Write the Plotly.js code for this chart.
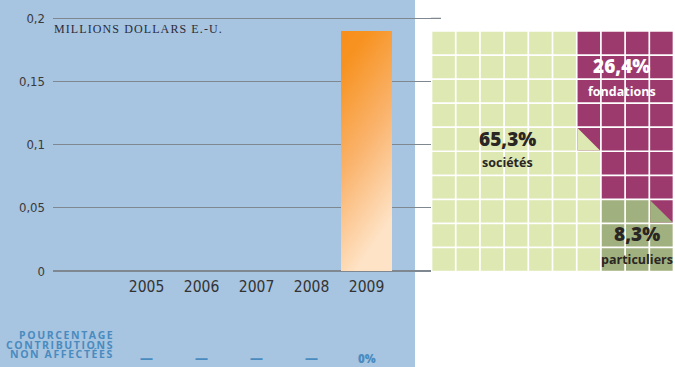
<!DOCTYPE html>
<html>
<head>
<meta charset="utf-8">
<script src="https://cdn.plot.ly/plotly-3.0.1.min.js"></script>
<style>
html,body{margin:0;padding:0;background:#fff;}
#chart{width:675px;height:367px;}
</style>
</head>
<body>
<div id="chart"></div>
<script>
// ---- data ----
const years = [2005, 2006, 2007, 2008, 2009];
const contributions = [0, 0, 0, 0, 0.19];          // millions US$
const unallocatedPct = [null, null, null, null, 0]; // % non affectées
const yTickVals = [0, 0.05, 0.1, 0.15, 0.2];
const yTickText = ['0', '0,05', '0,1', '0,15', '0,2'];
const unitLabel = 'MILLIONS DOLLARS E.-U.';
const pctLabelLines = ['POURCENTAGE', 'CONTRIBUTIONS', 'NON AFFECTÉES'];

const donorTypes = ['sociétés', 'fondations', 'particuliers'];
const donorShares = [65.3, 26.4, 8.3];
const donorColors = ['#dde8b2', '#9c3a6e', '#a1b07f'];
const donorTextColors = ['#2a2623', '#ffffff', '#2a2623'];

// ---- style constants ----
const W = 675, H = 367;
const px = v => v / W;
const py = v => (H - v) / H;
const narrow = '"Liberation Sans Narrow", "DejaVu Sans Condensed", "Arial Narrow", sans-serif';
const sans = '"Open Sans", "Noto Sans", sans-serif';
const blueText = '#4a8bbf';

// ---- waffle (10 x 10 cells, 1 cell = 1 %) ----
const N = 10;
const grid = [];
for (let r = 0; r < N; r++) { grid.push(new Array(N).fill(null)); }
const halfRound = v => Math.round(v * 2) / 2;
// category 0 fills columns left->right, each column bottom->up
const n0 = halfRound(donorShares[0]);
let k = 0, lastCol0 = 0;
const halves = [];
for (let c = 0; c < N && k < n0; c++) {
  for (let r = N - 1; r >= 0 && k < n0; r--) {
    if (n0 - k >= 1) { grid[r][c] = 0; k += 1; }
    else { halves.push({r, c, cat: 0}); k = n0; }
    lastCol0 = c;
  }
}
// category 2 fills the remaining columns bottom->up, left->right inside each row
const n2 = halfRound(donorShares[2]);
k = 0;
for (let r = N - 1; r >= 0 && k < n2; r--) {
  for (let c = lastCol0 + 1; c < N && k < n2; c++) {
    if (n2 - k >= 1) { grid[r][c] = 2; k += 1; }
    else { halves.push({r, c, cat: 2}); k = n2; }
  }
}
// category 1 takes the rest
for (let r = 0; r < N; r++) for (let c = 0; c < N; c++) if (grid[r][c] === null) grid[r][c] = 1;

const g = 0.035;
const polys = [[], [], []];
function addPoly(cat, pts) {
  pts.forEach(p => { polys[cat].push(p); });
  polys[cat].push(pts[0]);
  polys[cat].push([null, null]);
}
for (let r = 0; r < N; r++) for (let c = 0; c < N; c++) {
  addPoly(grid[r][c], [[c + g, r + g], [c + 1 - g, r + g], [c + 1 - g, r + 1 - g], [c + g, r + 1 - g]]);
}
halves.forEach(h => {
  const c = h.c, r = h.r;
  addPoly(h.cat, [[c + g, r + g], [c + g, r + 1 - g], [c + 1 - g, r + 1 - g]]);
});

const waffleTraces = [1, 0, 2].map(cat => ({
  type: 'scatter', mode: 'lines', xaxis: 'x2', yaxis: 'y2',
  x: polys[cat].map(p => p[0]), y: polys[cat].map(p => p[1]),
  fill: 'toself', fillcolor: donorColors[cat],
  line: {width: 0, color: donorColors[cat]},
  connectgaps: false, hoverinfo: 'skip', showlegend: false
}));

// ---- bar trace ----
const barTrace = {
  type: 'bar', x: years, y: contributions, width: 0.945,
  marker: {color: '#f9a552', line: {width: 0}},
  hoverinfo: 'skip', showlegend: false
};

// ---- annotations ----
const fmt = v => v.toFixed(1).replace('.', ',') + '%';
const labelPos = [
  {x: 3.15, y: 4.5, y2: 5.45},
  {x: 7.87, y: 1.45, y2: 2.5},
  {x: 8.49, y: 8.45, y2: 9.5}
];
const annotations = [];
annotations.push({
  xref: 'paper', yref: 'paper', x: px(52), y: py(29), xanchor: 'left', yanchor: 'middle',
  text: '<span style="letter-spacing:1.1px">' + unitLabel + '</span>', showarrow: false,
  font: {family: '"Liberation Serif", "DejaVu Serif", serif', size: 12, color: '#2a2c3a'}
});
donorTypes.forEach((t, i) => {
  annotations.push({
    xref: 'x2', yref: 'y2', x: labelPos[i].x, y: labelPos[i].y, xanchor: 'center', yanchor: 'middle',
    text: fmt(donorShares[i]), showarrow: false,
    font: {family: sans, size: 19, weight: 800, color: donorTextColors[i]}
  });
  annotations.push({
    xref: 'x2', yref: 'y2', x: labelPos[i].x, y: labelPos[i].y2, xanchor: 'center', yanchor: 'middle',
    text: t, showarrow: false,
    font: {family: sans, size: 12.5, weight: 700, color: donorTextColors[i]}
  });
});
pctLabelLines.forEach((t, i) => {
  annotations.push({
    xref: 'paper', yref: 'paper', x: px(116), y: py(335 + i * 9.6), xanchor: 'right', yanchor: 'middle',
    text: '<span style="letter-spacing:1.6px">' + t + '</span>', showarrow: false,
    font: {family: sans, size: 10.5, weight: 700, color: blueText}
  });
});
years.forEach((yr, i) => {
  const v = unallocatedPct[i];
  annotations.push({
    xref: 'x', yref: 'paper', x: yr, y: py(v === null ? 357.5 : 358.5), xanchor: 'center', yanchor: 'middle',
    text: v === null ? '—' : v + '%', showarrow: false,
    font: {family: sans, size: v === null ? 13 : 11.5, weight: 800, color: blueText}
  });
});

const layout = {
  width: W, height: H,
  margin: {l: 0, r: 0, t: 0, b: 0, pad: 0},
  paper_bgcolor: '#ffffff', plot_bgcolor: 'rgba(0,0,0,0)',
  showlegend: false, bargap: 0,
  xaxis: {
    domain: [px(53), px(431)], range: [2003.3, 2010.1727],
    tickvals: years, ticktext: years.map(String),
    showgrid: false, zeroline: false, showline: false, ticks: '',
    tickfont: {family: narrow, size: 15.5, color: '#333333'},
    ticklabelstandoff: 1, fixedrange: true, anchor: 'y'
  },
  yaxis: {
    domain: [0.2512, 0.9605], range: [-0.003, 0.203],
    tickvals: yTickVals, ticktext: yTickText,
    showgrid: true, gridcolor: '#7f8791', gridwidth: 1.3,
    zeroline: false, showline: false, ticks: '',
    tickfont: {family: narrow, size: 13, color: '#3a3a3a'},
    ticklabelstandoff: 7, fixedrange: true, anchor: 'x'
  },
  xaxis2: {domain: [px(431.5), px(673.5)], range: [0, 10], visible: false, fixedrange: true, anchor: 'y2'},
  yaxis2: {domain: [py(271.5), py(31)], range: [10, 0], visible: false, fixedrange: true, anchor: 'x2'},
  shapes: [
    {type: 'rect', xref: 'paper', yref: 'paper', x0: 0, x1: px(415), y0: 0, y1: 1,
     fillcolor: '#a7c4e0', line: {width: 0}, layer: 'below'},
    {type: 'line', xref: 'paper', yref: 'y', x0: px(431), x1: px(441), y0: 0.2, y1: 0.2,
     line: {color: '#7f8791', width: 1.3}, layer: 'below'}
  ],
  annotations: annotations
};

Plotly.newPlot('chart', [barTrace].concat(waffleTraces), layout, {staticPlot: true, displayModeBar: false})
.then(gd => {
  const NS = 'http://www.w3.org/2000/svg';
  const svg = gd.querySelector('svg.main-svg');
  let defs = svg.querySelector('defs');
  if (!defs) { defs = document.createElementNS(NS, 'defs'); svg.insertBefore(defs, svg.firstChild); }
  const lg = document.createElementNS(NS, 'linearGradient');
  lg.setAttribute('id', 'barGrad');
  lg.setAttribute('x1', '0'); lg.setAttribute('y1', '0.05');
  lg.setAttribute('x2', '0.3'); lg.setAttribute('y2', '1');
  [[0, '#f78f1c'], [0.12, '#f79322'], [0.55, '#fab46e'], [1, '#fee3c6']].forEach(s => {
    const st = document.createElementNS(NS, 'stop');
    st.setAttribute('offset', s[0]); st.setAttribute('stop-color', s[1]);
    lg.appendChild(st);
  });
  defs.appendChild(lg);
  gd.querySelectorAll('.barlayer .point path').forEach(p => { p.style.fill = 'url(#barGrad)'; });
});
</script>
</body>
</html>
